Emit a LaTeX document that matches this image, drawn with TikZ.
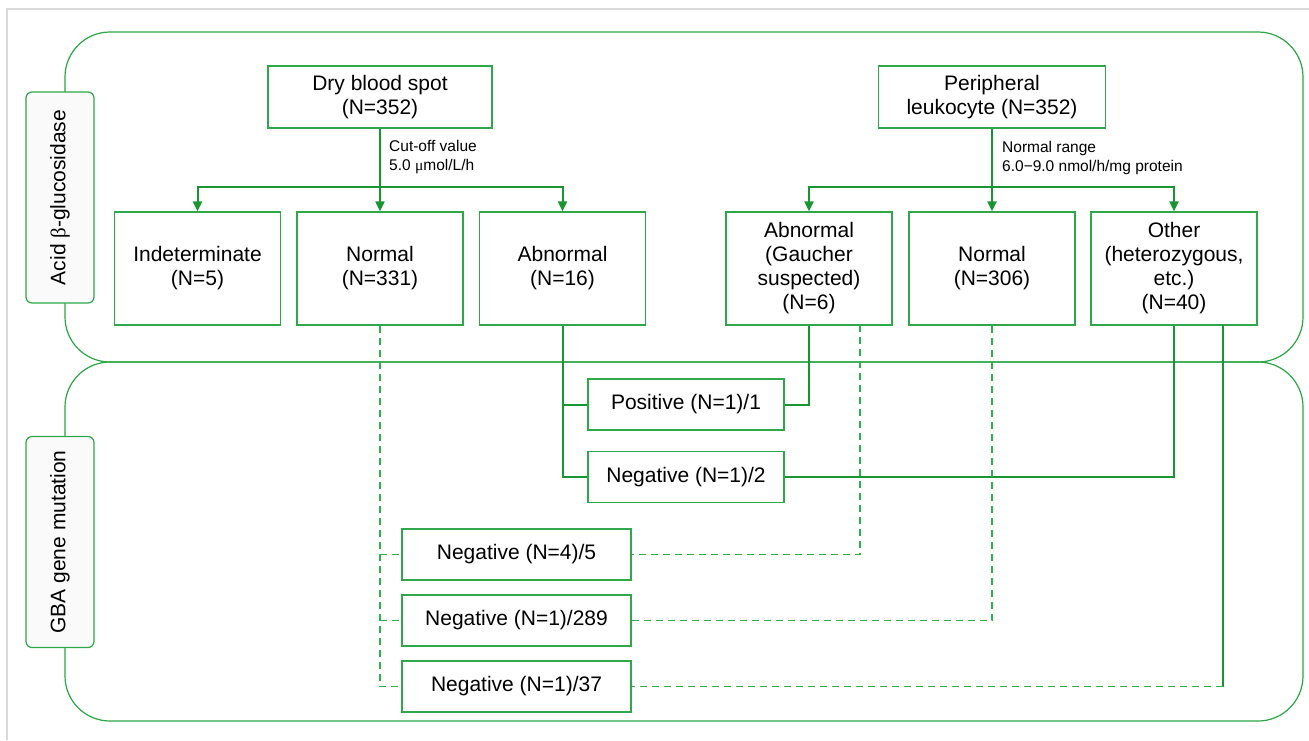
\documentclass[tikz,border=0pt]{standalone}
\usepackage{fontspec}
\setmainfont{Liberation Sans}
\newfontfamily\symf{Liberation Serif}
\usetikzlibrary{arrows.meta}
\definecolor{boxg}{RGB}{46,168,72}
\definecolor{lineg}{RGB}{24,150,50}
\definecolor{dashg}{RGB}{44,178,70}
\definecolor{regg}{RGB}{44,166,70}
\definecolor{framegray}{RGB}{217,217,217}
\definecolor{labfill}{RGB}{250,250,250}
\begin{document}
\begin{tikzpicture}[x=1pt,y=-1pt,font=\fontsize{21}{24}\selectfont,
  box/.style={draw=boxg, line width=1.3pt, align=center, inner sep=2pt, fill=white},
  rowbox/.style={box, minimum width=166pt, minimum height=113pt},
  resbox/.style={box, minimum width=196pt, minimum height=51pt},
  negbox/.style={box, minimum width=229pt, minimum height=51pt},
  conn/.style={draw=lineg, line width=2pt},
  dconn/.style={draw=dashg, line width=1.4pt, dash pattern=on 7pt off 5pt},
  region/.style={draw=regg, line width=1.2pt, rounded corners=45pt},
  sidelab/.style={draw=boxg, line width=1.2pt, fill=labfill, rounded corners=6pt, rotate=90, minimum width=211pt, minimum height=68pt, inner sep=0pt},
  note/.style={font=\fontsize{15.5}{19}\selectfont, align=left, anchor=west, inner sep=0pt},
  arr/.style={-{Triangle[length=10pt,width=9pt]}}]
\useasboundingbox (0,0) rectangle (1309,740);
\fill[white] (0,0) rectangle (1309,740);
% outer frame
\draw[framegray, line width=2pt] (7,740) -- (7,9) -- (1309,9);
% regions
\draw[region] (65,32) rectangle (1303,362);
\draw[region] (65,362) rectangle (1303,721);
\node[sidelab] (lab1) at (60,197.5) {Acid {\symf β}-glucosidase};
\node[sidelab] (lab2) at (60,542) {GBA gene mutation};
% top boxes
\node[box, minimum width=224pt, minimum height=62pt] (dbs) at (380,97) {Dry blood spot\\(N=352)};
\node[box, minimum width=227pt, minimum height=62pt] (per) at (992,97) {Peripheral\\leukocyte (N=352)};
% row boxes
\node[rowbox] (ind) at (197.5,268.5) {Indeterminate\\(N=5)};
\node[rowbox] (nor1) at (380,268.5) {Normal\\(N=331)};
\node[rowbox] (abn1) at (562.5,268.5) {Abnormal\\(N=16)};
\node[rowbox] (abn2) at (809,268.5) {Abnormal\\(Gaucher\\suspected)\\(N=6)};
\node[rowbox] (nor2) at (992,268.5) {Normal\\(N=306)};
\node[rowbox] (oth) at (1174,268.5) {Other\\(heterozygous,\\etc.)\\(N=40)};
% result boxes
\node[resbox] (pos) at (686,404.5) {Positive (N=1)/1};
\node[resbox] (neg2) at (686,477) {Negative (N=1)/2};
\node[negbox] (neg5) at (516.5,554.5) {Negative (N=4)/5};
\node[negbox] (neg289) at (516.5,620.5) {Negative (N=1)/289};
\node[negbox] (neg37) at (516.5,686.5) {Negative (N=1)/37};
% notes
\node[note] (cut) at (389,157.5) {Cut-off value\\5.0 {\symf μ}mol/L/h};
\node[note] (rng) at (1002,157.5) {Normal range\\6.0−9.0 nmol/h/mg protein};
% branching arrows
\coordinate (b1) at (380,187);
\coordinate (b2) at (992,187);
\draw[conn] (dbs.south) -- (b1);
\draw[conn,arr] (b1) -- (nor1.north);
\draw[conn,arr] (b1) -| (ind.north);
\draw[conn,arr] (b1) -| (abn1.north);
\draw[conn] (per.south) -- (b2);
\draw[conn,arr] (b2) -- (nor2.north);
\draw[conn,arr] (b2) -| (abn2.north);
\draw[conn,arr] (b2) -| (oth.north);
% solid result connectors
\draw[conn] (abn1.south) |- (neg2.west);
\draw[conn] (abn1.south |- pos.west) -- (pos.west);
\draw[conn] (abn2.south) |- (pos.east);
\draw[conn] (oth.south) |- (neg2.east);
\coordinate (o2) at (1223,325);
\coordinate (o2b) at (1223,686.5);
\draw[conn] (o2) -- (o2b);
\draw[dconn] (o2b) -- (neg37.east);
% dashed connectors
\coordinate (a2) at (860,325);
\draw[dconn] (a2) |- (neg5.east);
\draw[dconn] (nor2.south) |- (neg289.east);
\draw[dconn] (nor1.south) |- (neg37.west);
\draw[dconn] (nor1.south |- neg5.west) -- (neg5.west);
\draw[dconn] (nor1.south |- neg289.west) -- (neg289.west);
\end{tikzpicture}
\end{document}
